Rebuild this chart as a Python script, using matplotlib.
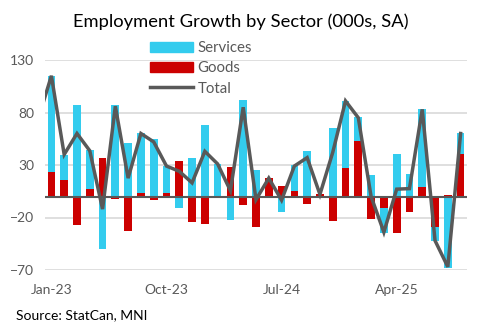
import matplotlib
matplotlib.use("Agg")
import matplotlib.pyplot as plt
import numpy as np
from matplotlib.patches import Patch
from matplotlib.lines import Line2D

months = ["Jan-23","Feb-23","Mar-23","Apr-23","May-23","Jun-23","Jul-23","Aug-23","Sep-23",
          "Oct-23","Nov-23","Dec-23","Jan-24","Feb-24","Mar-24","Apr-24","May-24","Jun-24",
          "Jul-24","Aug-24","Sep-24","Oct-24","Nov-24","Dec-24","Jan-25","Feb-25","Mar-25",
          "Apr-25","May-25","Jun-25","Jul-25","Aug-25","Sep-25"]
goods = [23, 16, -27, 7, 37, -2, -33, 3.5, -3, 3.5, 34, -24, -26, 0, 28, -8, -29, 18,
         10, 5.4, -7.6, 2, -23, 26.7, 52.5, -21, -11.4, -34.3, -14.3, 8.6, -28.6, 1.6, 40.7]
services = [92, 24, 87.5, 37, -49.6, 87.5, 51, 57, 55, 25.5, -10.5, 37, 68.4, 31, -22, 92,
            25.5, 0, -14.3, 24.6, 43.6, 0, 65.2, 64.6, 22.9, 20.7, -23, 40.4, 21.4, 74.8,
            -13.7, -68.3, 20]
total = [115, 40, 60, 43.6, -12, 86, 17.5, 60, 52, 29, 24, 13, 43, 31, 5.5, 85, -3, 17.5,
         -3.5, 29, 37, 2, 42, 91, 75, 0, -34, 7, 7.5, 83, -42, -67, 60]
total_prev = 75  # Dec-22, clipped at the left edge
xtick_labels = ["Jan-23", "Oct-23", "Jul-24", "Apr-25"]
yticks = [130, 80, 30, -20, -70]

FONT = "Lato"
plt.rcParams["font.family"] = FONT

C_SERV = "#33CCEE"
C_GOOD = "#CC0000"
C_TOT = "#595959"

fig = plt.figure(figsize=(4.82, 3.34), dpi=100)
ax = fig.add_axes([45/482, 1-270/334, 422/482, 210/334])

x = np.arange(len(months))
g = np.array(goods, float)
s = np.array(services, float)
# stacking: goods first (near zero), services on top, separately for pos/neg
g_base = np.zeros_like(g)
s_base = np.where((s > 0) & (g > 0), g, np.where((s < 0) & (g < 0), g, 0.0))

w = 0.6
ax.bar(x, g, width=w, bottom=g_base, color=C_GOOD, zorder=2)
ax.bar(x, s, width=w, bottom=s_base, color=C_SERV, zorder=2)
ax.plot(np.concatenate([[-1], x]), [total_prev] + total, color=C_TOT, lw=2.5, zorder=4,
        solid_joinstyle="miter")
ax.axhline(0, color=C_TOT, lw=1.5, zorder=3)

ax.set_xlim(-0.5, len(months) - 0.5)
ax.set_ylim(-70, 130)
ax.set_yticks(yticks)
ax.grid(axis="y", color="#D9D9D9", lw=1.2, zorder=0)
ax.set_axisbelow(True)
for sp in ax.spines.values():
    sp.set_visible(False)
ax.tick_params(axis="both", length=0, labelsize=10, colors="#595959", pad=8)
ax.set_xticks([months.index(m) for m in xtick_labels])
ax.set_xticklabels(xtick_labels)
ax.tick_params(axis="x", pad=10)

fig.text(241/482, 1-22/334, "Employment Growth by Sector (000s, SA)", ha="center", va="center",
         fontsize=13.2, color="black")
fig.text(16/482, 1-315/334, "Source: StatCan, MNI", ha="left", va="center", fontsize=10,
         color="black")

handles = [Patch(color=C_SERV, label="Services"), Patch(color=C_GOOD, label="Goods"),
           Line2D([0], [0], color=C_TOT, lw=2.5, label="Total")]
fig.legend(handles=handles, loc="upper left", bbox_to_anchor=(150/482, 1-41/334),
           frameon=False, fontsize=10.8, handlelength=2.85, handleheight=0.7,
           handletextpad=0.3, labelspacing=0.42, borderpad=0, borderaxespad=0,
           labelcolor="#595959")

fig.savefig("out.png", dpi=100)
